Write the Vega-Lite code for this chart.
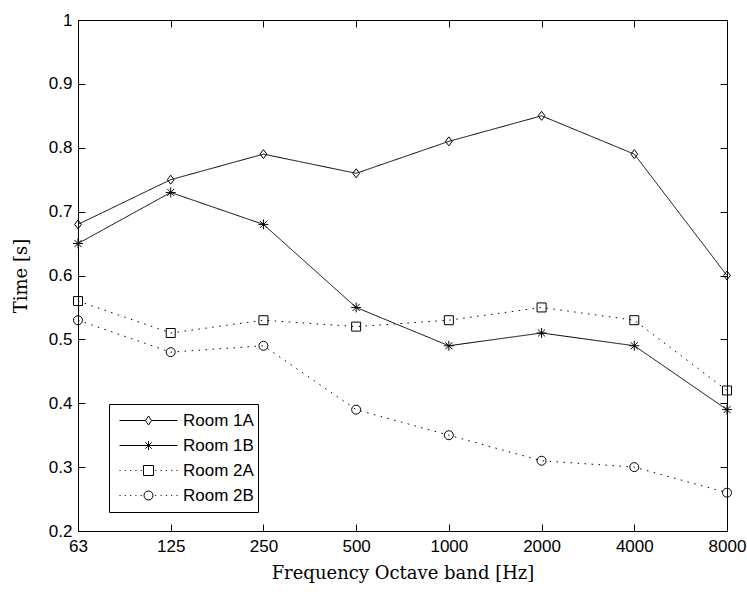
{
  "$schema": "https://vega.github.io/schema/vega-lite/v6.json",
  "width": 649,
  "height": 511,
  "autosize": {"type": "none"},
  "padding": {"left": 78, "top": 20, "right": 20, "bottom": 65},
  "background": "white",
  "config": {
    "view": {"stroke": "black", "strokeWidth": 1},
    "axis": {
      "grid": false,
      "domainColor": "black",
      "tickColor": "black",
      "labelColor": "black",
      "titleColor": "black",
      "labelFont": "Liberation Sans",
      "labelFontSize": 17,
      "titleFont": "DejaVu Serif",
      "titleFontSize": 18,
      "titleFontWeight": "normal",
      "tickSize": -7
    }
  },
  "data": {
    "values": [
      {"freq": "63", "room": "Room 1A", "time": 0.68},
      {"freq": "125", "room": "Room 1A", "time": 0.75},
      {"freq": "250", "room": "Room 1A", "time": 0.79},
      {"freq": "500", "room": "Room 1A", "time": 0.76},
      {"freq": "1000", "room": "Room 1A", "time": 0.81},
      {"freq": "2000", "room": "Room 1A", "time": 0.85},
      {"freq": "4000", "room": "Room 1A", "time": 0.79},
      {"freq": "8000", "room": "Room 1A", "time": 0.60},
      {"freq": "63", "room": "Room 1B", "time": 0.65},
      {"freq": "125", "room": "Room 1B", "time": 0.73},
      {"freq": "250", "room": "Room 1B", "time": 0.68},
      {"freq": "500", "room": "Room 1B", "time": 0.55},
      {"freq": "1000", "room": "Room 1B", "time": 0.49},
      {"freq": "2000", "room": "Room 1B", "time": 0.51},
      {"freq": "4000", "room": "Room 1B", "time": 0.49},
      {"freq": "8000", "room": "Room 1B", "time": 0.39},
      {"freq": "63", "room": "Room 2A", "time": 0.56},
      {"freq": "125", "room": "Room 2A", "time": 0.51},
      {"freq": "250", "room": "Room 2A", "time": 0.53},
      {"freq": "500", "room": "Room 2A", "time": 0.52},
      {"freq": "1000", "room": "Room 2A", "time": 0.53},
      {"freq": "2000", "room": "Room 2A", "time": 0.55},
      {"freq": "4000", "room": "Room 2A", "time": 0.53},
      {"freq": "8000", "room": "Room 2A", "time": 0.42},
      {"freq": "63", "room": "Room 2B", "time": 0.53},
      {"freq": "125", "room": "Room 2B", "time": 0.48},
      {"freq": "250", "room": "Room 2B", "time": 0.49},
      {"freq": "500", "room": "Room 2B", "time": 0.39},
      {"freq": "1000", "room": "Room 2B", "time": 0.35},
      {"freq": "2000", "room": "Room 2B", "time": 0.31},
      {"freq": "4000", "room": "Room 2B", "time": 0.30},
      {"freq": "8000", "room": "Room 2B", "time": 0.26}
    ]
  },
  "layer": [
    {
      "mark": {"type": "line", "color": "black", "strokeWidth": 1},
      "encoding": {
        "x": {
          "field": "freq", "type": "ordinal",
          "sort": ["63", "125", "250", "500", "1000", "2000", "4000", "8000"],
          "scale": {"type": "point", "padding": 0},
          "axis": {"orient": "bottom", "labelAngle": 0, "title": "Frequency Octave band [Hz]", "labelPadding": 14, "titlePadding": 10}
        },
        "y": {
          "field": "time", "type": "quantitative",
          "scale": {"domain": [0.2, 1], "nice": false, "zero": false},
          "axis": {"orient": "left", "values": [0.2, 0.3, 0.4, 0.5, 0.6, 0.7, 0.8, 0.9, 1], "format": "~g", "title": "Time [s]", "labelPadding": 13, "titlePadding": 18}
        },
        "detail": {"field": "room", "type": "nominal"},
        "strokeDash": {
          "field": "room", "type": "nominal",
          "scale": {"domain": ["Room 1A", "Room 1B", "Room 2A", "Room 2B"], "range": [[1, 0], [1, 0], [1.5, 5.5], [1.5, 5.5]]},
          "legend": null
        }
      }
    },
    {
      "mark": {"type": "point", "filled": false, "color": "black", "strokeWidth": 1, "size": 81, "opacity": 1},
      "encoding": {
        "x": {
          "field": "freq", "type": "ordinal",
          "sort": ["63", "125", "250", "500", "1000", "2000", "4000", "8000"],
          "axis": {"orient": "top", "labels": false, "title": null}
        },
        "y": {
          "field": "time", "type": "quantitative",
          "axis": {"orient": "right", "labels": false, "title": null, "values": [0.2, 0.3, 0.4, 0.5, 0.6, 0.7, 0.8, 0.9, 1]}
        },
        "shape": {
          "field": "room", "type": "nominal",
          "scale": {
            "domain": ["Room 1A", "Room 1B", "Room 2A", "Room 2B"],
            "range": [
              "M0,-1L0.75,0L0,1L-0.75,0Z",
              "M-1.1,0L1.1,0M0,-1.1L0,1.1M-0.78,-0.78L0.78,0.78M-0.78,0.78L0.78,-0.78",
              "square",
              "M-1,0A1,1 0 1,0 1,0A1,1 0 1,0 -1,0Z"
            ]
          },
          "legend": null
        }
      }
    },
    {
      "mark": {"type": "point", "filled": false, "color": "black", "strokeWidth": 1, "opacity": 0},
      "encoding": {
        "x": {"field": "freq", "type": "ordinal", "sort": ["63", "125", "250", "500", "1000", "2000", "4000", "8000"], "axis": null},
        "y": {"field": "time", "type": "quantitative", "axis": null},
        "shape": {
          "field": "room", "type": "nominal",
          "scale": {
            "domain": ["Room 1A", "Room 1B", "Room 2A", "Room 2B"],
            "range": [
              "M-1,0L-0.103,0M0.103,0L1,0M-0.103,0L0,-0.155L0.103,0L0,0.155Z",
              "M-1,0L1,0M0,-0.155L0,0.155M-0.11,-0.11L0.11,0.11M-0.11,0.11L0.11,-0.11",
              "M-1,0L-0.965,0M-0.817,0L-0.782,0M-0.634,0L-0.599,0M-0.451,0L-0.416,0M-0.268,0L-0.233,0M0.233,0L0.268,0M0.416,0L0.451,0M0.599,0L0.634,0M0.782,0L0.817,0M0.965,0L1,0M-0.172,-0.172L0.172,-0.172L0.172,0.172L-0.172,0.172Z",
              "M-1,0L-0.965,0M-0.817,0L-0.782,0M-0.634,0L-0.599,0M-0.451,0L-0.416,0M-0.268,0L-0.233,0M0.233,0L0.268,0M0.416,0L0.451,0M0.599,0L0.634,0M0.782,0L0.817,0M0.965,0L1,0M-0.155,0A0.155,0.155 0 1,0 0.155,0A0.155,0.155 0 1,0 -0.155,0Z"
            ]
          },
          "legend": {
            "title": null,
            "orient": "none",
            "legendX": 31,
            "legendY": 384,
            "strokeColor": "black",
            "fillColor": "white",
            "padding": 4,
            "symbolSize": 3364,
            "symbolStrokeWidth": 1,
            "symbolStrokeColor": "black",
            "symbolFillColor": "transparent",
            "symbolOpacity": 1,
            "symbolOffset": 6,
            "labelOffset": 5,
            "labelFont": "Liberation Sans",
            "labelFontSize": 17,
            "labelColor": "black",
            "clipHeight": 25,
            "rowPadding": 0
          }
        }
      }
    }
  ],
  "resolve": {"axis": {"x": "independent", "y": "independent"}, "scale": {"shape": "independent"}}
}
